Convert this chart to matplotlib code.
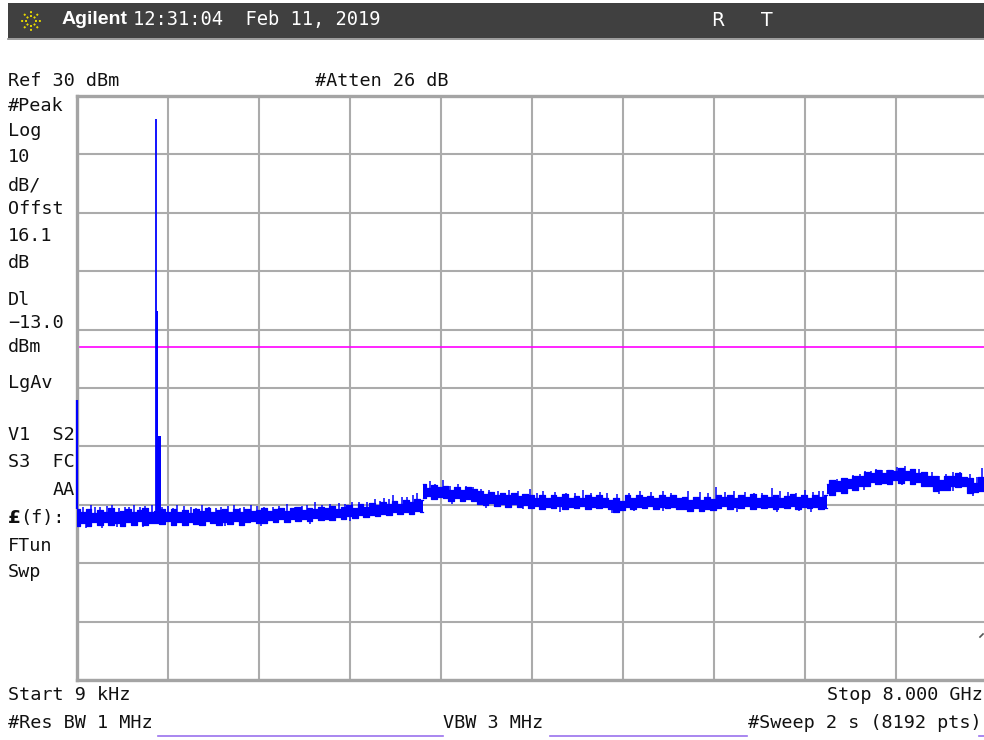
import numpy as np
import matplotlib
matplotlib.use('Agg')
from matplotlib import pyplot as plt
from matplotlib.patches import Rectangle, Circle
from matplotlib.lines import Line2D

W, H = 984, 740

# --- sweep settings ---
f_start = 9e-6      # GHz
f_stop = 8.0        # GHz
ref_level = 30      # dBm
db_per_div = 10
display_line = -13.0

# --- noise floor, upper / lower edge of the trace (dBm) ---
low_span = (0.0, 3.04)
low_hi = [-40.7, -41.3, -40.8, -41.4, -40.9, -41.2, -40.6, -41.3, -41.0, -40.7, -41.3, -40.9, -40.6, -41.2,
          -41.0,
          -40.8, -41.3, -40.7, -41.2, -40.9, -41.4, -40.8, -41.1, -40.6, -41.3, -40.9, -40.7, -41.2, -40.8,
          -41.3, -40.7, -41.1, -40.9,
          -40.6, -41.1, -40.7, -40.5, -41.0, -40.6, -40.3, -40.9, -40.5, -40.8, -40.3, -40.6,
          -40.2, -40.7, -40.3, -40.0, -40.5, -39.9, -40.3, -39.7, -40.1, -39.6, -39.9, -39.4, -39.8, -39.2,
          -39.5, -39.0,
          -39.1]
low_lo = [-43.6, -43.1, -43.7, -43.0, -43.4, -42.9, -43.5, -43.2, -43.6, -43.0, -43.4, -42.8, -43.5, -43.1,
          -43.1,
          -43.3, -42.8, -43.4, -43.0, -43.5, -42.9, -43.3, -43.4, -42.8, -43.2, -43.5, -42.9, -43.3, -42.8,
          -43.4, -43.0, -42.7, -43.2,
          -43.1, -42.6, -42.9, -42.5, -42.9, -42.4, -42.8, -42.5, -42.7, -42.2, -42.6, -42.4,
          -42.6, -42.1, -42.4, -41.9, -42.3, -41.8, -42.1, -41.7, -42.0, -41.5, -41.8, -41.3, -41.6, -41.2,
          -41.5, -41.1,
          -41.3]

mid_span = (3.04, 6.59)
mid_hi = [-36.5, -37.1, -36.6, -37.0, -36.7,
          -37.4, -36.9, -37.5, -37.0, -37.3,
          -37.7, -38.2, -37.8, -38.3, -37.9, -38.4, -38.0, -38.5, -38.1,
          -38.3, -38.8, -38.4, -38.9, -38.3, -38.7, -38.2, -38.8, -38.5, -38.9, -38.3, -38.7, -38.4, -38.8,
          -39.2, -38.8, -39.3,
          -38.4, -38.8, -38.3, -38.7, -38.5, -38.9, -38.3, -38.7, -38.4, -38.8,
          -38.6, -39.1, -38.7, -39.2, -38.6, -39.0,
          -38.3, -38.7, -38.4, -38.9, -38.3, -38.6, -38.2, -38.8, -38.4, -38.7, -38.3, -38.8, -38.5, -38.2,
          -38.7, -38.4, -38.8, -38.3, -38.6,
          -38.4]
mid_lo = [-38.9, -38.5, -39.0, -38.6, -38.9,
          -39.3, -38.9, -39.4, -39.0, -39.3,
          -39.8, -40.1, -39.7, -40.2, -39.9, -40.3, -39.9, -40.3, -40.0,
          -40.6, -40.2, -40.7, -40.3, -40.6, -40.2, -40.8, -40.4, -40.6, -40.2, -40.7, -40.3, -40.6, -40.4,
          -40.8, -41.2, -40.9,
          -40.4, -40.7, -40.3, -40.6, -40.2, -40.7, -40.4, -40.6, -40.3, -40.7,
          -40.7, -41.0, -40.6, -41.1, -40.7, -40.9,
          -40.6, -40.2, -40.7, -40.3, -40.6, -40.2, -40.7, -40.4, -40.6, -40.3, -40.8, -40.4, -40.6, -40.2,
          -40.7, -40.3, -40.6, -40.4, -40.7,
          -40.5]

high_span = (6.59, 8.0)
high_hi = [-36.4, -35.8, -36.0, -35.4, -35.6, -35.0, -35.1, -34.3, -34.5, -34.0, -34.6, -34.0, -34.2, -33.7,
           -34.2, -33.9, -34.5, -34.3, -35.1, -35.1, -35.8, -35.0, -35.1, -34.5, -35.2, -35.4, -36.2, -35.2,
           -35.2]
high_lo = [-38.0, -38.3, -37.6, -37.9, -37.2, -37.5, -36.7, -36.8, -36.1, -36.5, -36.2, -36.5, -35.8, -36.2,
           -35.8, -36.4, -36.1, -36.8, -36.7, -37.6, -37.4, -37.5, -36.7, -37.0, -36.8, -37.9, -37.8, -37.7,
           -36.8]

# short noise spikes above / below the floor
spike_f = [0.05, 0.12, 0.16, 0.20, 0.26, 0.31, 0.37, 0.42, 0.46, 0.50, 0.55, 0.60, 0.66,
           0.75, 0.80, 0.84, 0.88, 0.94, 1.00, 1.05, 1.10, 1.16, 1.22, 1.27, 1.33, 1.38, 1.43, 1.47,
           1.53, 1.58, 1.64, 1.72, 1.78, 1.85, 1.92, 1.98, 2.02, 2.09, 2.15, 2.22, 2.30, 2.36, 2.42,
           2.48, 2.55, 2.62, 2.66, 2.70, 2.74, 2.78, 2.86, 2.90, 2.95, 2.99,
           3.10, 3.15, 3.22, 3.28, 3.35, 3.42, 3.48, 3.55, 3.62, 3.70, 3.80, 3.88, 3.98, 4.04, 4.10,
           4.20, 4.30, 4.38, 4.45, 4.52, 4.60, 4.66, 4.75, 4.85, 4.95, 5.05, 5.15, 5.22, 5.37, 5.48,
           5.55, 5.62, 5.70, 5.78, 5.87, 5.95, 6.02, 6.11, 6.18, 6.25, 6.32, 6.40, 6.47, 6.52, 6.56,
           6.63, 6.68, 6.75, 6.82, 6.88, 6.93, 6.98, 7.02, 7.08, 7.12, 7.17, 7.21, 7.28, 7.33, 7.40,
           7.46, 7.52, 7.58, 7.64, 7.70, 7.76, 7.85, 7.91, 7.96]
spike_db = [-40.3, -40.0, -40.4, -40.3, -40.2, -40.1, -40.5, -40.4, -40.3, -40.0, -40.4, -40.2, -40.1,
            -40.3, -40.2, -40.6, -40.0, -40.2, -40.4, -40.5, -40.1, -40.3, -40.5, -40.4, -40.2, -40.0, -40.5,
            -40.3, -40.1, -40.2, -40.3, -40.4, -40.2, -39.9, -40.4, -40.2, -40.0, -39.5, -40.1, -39.8, -39.7,
            -39.9, -39.5, -39.6, -39.6, -39.0, -39.3, -38.9, -39.0, -38.3, -38.7, -38.6, -38.4, -38.0,
            -36.0, -36.4, -35.8, -36.7, -36.4, -36.8, -37.0, -37.3, -37.4, -37.6, -37.5, -37.6, -37.3, -37.9,
            -37.6, -37.8, -37.9, -38.0, -37.4, -37.9, -37.8, -38.0, -38.1, -37.9, -37.6, -37.8, -37.7, -37.9,
            -37.6, -37.8, -37.9, -37.0, -37.8, -37.6, -37.8, -37.9, -37.9, -37.1, -37.7, -37.8, -37.9, -37.5,
            -37.8, -37.7, -37.6,
            -35.8, -35.5, -35.4, -34.9, -34.8, -34.2, -34.2, -33.9, -34.1, -34.0, -34.0, -33.5, -33.3, -33.9,
            -33.8, -34.3, -34.4, -35.1, -34.7, -34.3, -34.3, -34.8, -35.3, -33.7]
dip_f = [0.08, 0.22, 0.35, 0.58, 0.98, 1.30, 1.62, 2.05, 2.40, 3.30, 3.60, 3.92, 4.25, 4.70, 4.90,
         5.15, 5.40, 5.80, 6.15, 6.35, 6.45, 6.92, 7.25, 7.58, 7.70, 7.88, 7.97]
dip_db = [-43.9, -43.9, -43.8, -43.8, -43.7, -43.7, -43.6, -43.3, -42.8, -39.9, -40.6, -40.7, -41.2, -41.4,
          -41.1, -41.1, -41.3, -41.2, -41.2, -41.1, -41.3, -37.4, -36.6, -38.1, -37.6, -38.5, -37.7]

# carrier at ~690 MHz and its skirt: (start GHz, stop GHz, level dBm)
peak_start = [0.6895, 0.6905, 0.6915]
peak_stop = [0.6915, 0.7110, 0.7380]
peak_db = [26.1, -6.9, -28.2]

# feedthrough at the start of the sweep
start_spike_db = -22.0

blue = '#0000ff'
grid_grey = '#ababab'

fig = plt.figure(figsize=(W / 100, H / 100), dpi=100)
fig.patch.set_facecolor('white')


def px(x, y):
    return x / W, 1 - y / H


def label(x, y, s, **kw):
    opts = dict(family='DejaVu Sans Mono', size=13.3, color='#111111', va='center', ha='left')
    opts.update(kw)
    fig.text(*px(x, y), s, **opts)


# --- title bar ---
fig.patches.append(Rectangle(px(8, 38), (W - 8) / W, 35 / H, transform=fig.transFigure,
                             facecolor='#404040', edgecolor='none'))
fig.add_artist(Line2D([8 / W, 1], [1 - 38.5 / H] * 2, color='#8a8a8a', lw=1.2))
cx, cy = 31, 21
for ang in np.arange(0, 360, 45):
    a = np.deg2rad(ang)
    xs = [cx + 4 * np.cos(a), cx + 10 * np.cos(a)]
    ys = [cy + 4 * np.sin(a), cy + 10 * np.sin(a)]
    fig.add_artist(Line2D([x / W for x in xs], [1 - y / H for y in ys],
                          color='#e6d800', lw=1.4, ls=(0, (1, 1))))
fig.add_artist(Circle(px(cx, cy), 3 / W, transform=fig.transFigure,
                      facecolor='none', edgecolor='#e6d800', lw=1.2))
label(62, 20, 'Agilent', family='Liberation Sans', weight='bold', size=14, color='white')
label(133, 20, '12:31:04  Feb 11, 2019', color='white', size=13.5)
label(711, 20, 'R', family='DejaVu Sans', color='white', size=13.5)
label(761, 20, 'T', family='DejaVu Sans', color='white', size=13.5)

# --- plot area ---
ax = fig.add_axes([77 / W, 60 / H, 910 / W, 584 / H])
ax.set_xlim(f_start, f_stop)
ax.set_ylim(ref_level - 10 * db_per_div, ref_level)
ax.set_xticks(np.linspace(f_start, f_stop, 11))
ax.set_yticks(np.arange(ref_level - 10 * db_per_div, ref_level + 1, db_per_div))
ax.tick_params(length=0, labelbottom=False, labelleft=False)
ax.grid(True, color=grid_grey, lw=1.5)
ax.set_axisbelow(True)
for side, sp in ax.spines.items():
    sp.set_color('#a4a4a4')
    sp.set_linewidth(2.4)

ax.axhline(display_line, color='#ff00ff', lw=1.2, zorder=2.5)

for span, hi, lo in [(low_span, low_hi, low_lo), (mid_span, mid_hi, mid_lo), (high_span, high_hi, high_lo)]:
    f = np.linspace(span[0], span[1], len(hi))
    ax.fill_between(f, lo, hi, step='mid', color=blue, lw=0, zorder=3)
    ax.plot(f, hi, drawstyle='steps-mid', color=blue, lw=0.9, zorder=3)
    ax.plot(f, lo, drawstyle='steps-mid', color=blue, lw=0.9, zorder=3)

ax.vlines(spike_f, np.array(spike_db) - 2.0, spike_db, color=blue, lw=1.1, zorder=3)
ax.vlines(dip_f, dip_db, np.array(dip_db) + 2.0, color=blue, lw=1.1, zorder=3)

for fs, fe, lvl in zip(peak_start, peak_stop, peak_db):
    if fe - fs < 0.005:
        ax.vlines((fs + fe) / 2, low_lo[14], lvl, color=blue, lw=1.3, zorder=3)
    else:
        ax.fill_between([fs, fe], low_lo[14], lvl, color=blue, lw=0, zorder=3)

ax.vlines(f_start, low_hi[0], start_spike_db, color=blue, lw=1.6, zorder=4, clip_on=False)

# --- annotation text ---
label(8, 81, 'Ref 30 dBm')
label(315, 81, '#Atten 26 dB')

left_lines = [('#Peak', 106), ('Log', 131), ('10', 157), ('dB/', 185), ('Offst', 209),
              ('16.1', 236), ('dB', 263), ('Dl', 300), ('\u221213.0', 323), ('dBm', 347),
              ('LgAv', 383), ('V1  S2', 435), ('S3  FC', 462), ('FTun', 546), ('Swp', 572)]
for s, y in left_lines:
    label(8, y, s)
label(75, 490, 'AA', ha='right')
label(8, 518, '\u00a3', family='DejaVu Sans', weight='bold')
label(20, 518, '(f):')

label(8, 695, 'Start 9 kHz')
label(983, 695, 'Stop 8.000 GHz', ha='right')
label(8, 723, '#Res BW 1 MHz')
label(443, 723, 'VBW 3 MHz')
label(748, 723, '#Sweep 2 s (8192 pts)')

purple = '#9a72ee'
for x0, x1 in [(158, 443), (550, 747), (979, 984)]:
    fig.add_artist(Line2D([x0 / W, x1 / W], [1 - 736 / H] * 2, color=purple, lw=1.2))

fig.add_artist(Line2D([980 / W, 983 / W], [1 - 637 / H, 1 - 634 / H], color='#555555', lw=1.2))

fig.savefig('out.png', dpi=100)
